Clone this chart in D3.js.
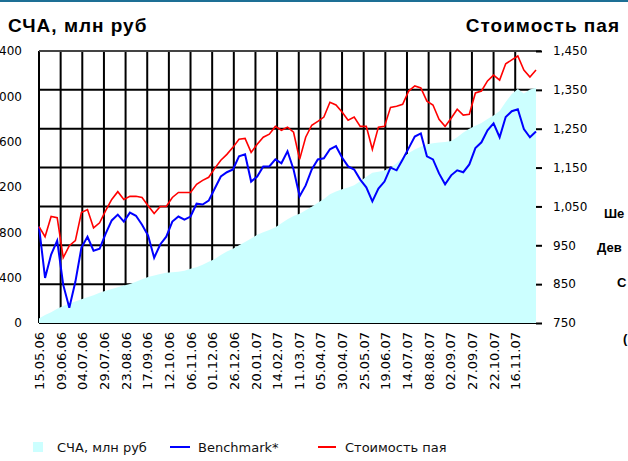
<!DOCTYPE html>
<html>
<head>
<meta charset="utf-8">
<script src="https://cdn.jsdelivr.net/npm/d3@7"></script>
<style>
  body { margin: 0; background: #fff; }
  svg { display: block; }
</style>
</head>
<body>
<div id="chart"></div>
<script>
// weekly observations
const weekDates = [
  "15.05.06","22.05.06","29.05.06","05.06.06","12.06.06","19.06.06","26.06.06","03.07.06","10.07.06","17.07.06",
  "24.07.06","31.07.06","07.08.06","14.08.06","21.08.06","28.08.06","04.09.06","11.09.06","18.09.06","25.09.06",
  "02.10.06","09.10.06","16.10.06","23.10.06","30.10.06","06.11.06","13.11.06","20.11.06","27.11.06","04.12.06",
  "11.12.06","18.12.06","25.12.06","01.01.07","08.01.07","15.01.07","22.01.07","29.01.07","05.02.07","12.02.07",
  "19.02.07","26.02.07","05.03.07","12.03.07","19.03.07","26.03.07","02.04.07","09.04.07","16.04.07","23.04.07",
  "30.04.07","07.05.07","14.05.07","21.05.07","28.05.07","04.06.07","11.06.07","18.06.07","25.06.07","02.07.07",
  "09.07.07","16.07.07","23.07.07","30.07.07","06.08.07","13.08.07","20.08.07","27.08.07","03.09.07","10.09.07",
  "17.09.07","24.09.07","01.10.07","08.10.07","15.10.07","22.10.07","29.10.07","05.11.07","12.11.07","19.11.07",
  "26.11.07","03.12.07","10.12.07"
];

// СЧА, млн руб (left axis)
const navValues = [
  40, 70, 95, 125, 150, 170, 190, 210, 228, 245,
  268, 285, 300, 315, 330, 345, 365, 385, 405, 420,
  432, 443, 447, 452, 462, 478, 492, 515, 540, 565,
  600, 630, 655, 685, 715, 745, 778, 800, 820, 845,
  880, 915, 945, 965, 995, 1025, 1060, 1095, 1135, 1160,
  1180, 1195, 1215, 1250, 1290, 1325, 1335, 1345, 1370, 1410,
  1460, 1500, 1530, 1555, 1577, 1585, 1592, 1598, 1605, 1640,
  1680, 1715, 1740, 1765, 1800, 1830, 1870, 1950, 2020, 2065,
  2025, 2060, 2075
];

// Benchmark* (right axis)
const benchmarkValues = [
  998, 866, 926, 962, 848, 789, 856, 944, 972, 936,
  941, 980, 1014, 1029, 1011, 1034, 1026, 1003, 975, 918,
  952, 972, 1011, 1024, 1016, 1024, 1057, 1055, 1065, 1096,
  1127, 1138, 1145, 1179, 1184, 1114, 1127, 1153, 1153, 1171,
  1161, 1192, 1145, 1076, 1104, 1145, 1171, 1174, 1197, 1205,
  1176, 1153, 1145, 1119, 1099, 1063, 1096, 1114, 1150, 1143,
  1171, 1200, 1230, 1238, 1179, 1171, 1135, 1107, 1130, 1143,
  1138, 1158, 1200, 1215, 1246, 1264, 1228, 1280, 1295, 1300,
  1249, 1228, 1243
];

// Стоимость пая (right axis)
const unitValues = [
  998, 972, 1024, 1021, 918, 949, 962, 1034, 1042, 995,
  1008, 1039, 1068, 1088, 1068, 1076, 1076, 1073, 1052, 1032,
  1050, 1050, 1073, 1086, 1086, 1086, 1107, 1117, 1125, 1148,
  1169, 1184, 1202, 1223, 1225, 1189, 1210, 1228, 1236, 1256,
  1246, 1254, 1241, 1171, 1228, 1259, 1269, 1280, 1318, 1311,
  1293, 1272, 1280, 1256, 1256, 1197, 1254, 1256, 1305, 1308,
  1313, 1347, 1360, 1355, 1321, 1311, 1274, 1256, 1277, 1300,
  1285, 1287, 1342, 1347, 1373, 1388, 1375, 1417, 1427, 1437,
  1401, 1383, 1401
];

const xTickDates = [
  "15.05.06","09.06.06","04.07.06","29.07.06","23.08.06","17.09.06","12.10.06","06.11.06",
  "01.12.06","26.12.06","20.01.07","14.02.07","11.03.07","05.04.07","30.04.07","25.05.07",
  "19.06.07","14.07.07","08.08.07","02.09.07","27.09.07","22.10.07","16.11.07"
];
const navTicks = [0, 400, 800, 1200, 1600, 2000, 2400];
const priceTicks = [750, 850, 950, 1050, 1150, 1250, 1350, 1450];

const width = 628, height = 461;
const plot = { left: 39, right: 536, top: 51, bottom: 323 };

const parse = d3.timeParse("%d.%m.%y");
const dates = weekDates.map(parse);
const tickDates = xTickDates.map(parse);

const svg = d3.select("#chart").append("svg")
  .attr("width", width)
  .attr("height", height)
  .style("font-family", "'DejaVu Sans', sans-serif");

svg.append("rect").attr("width", width).attr("height", height).attr("fill", "#fff");

// thin rule along the top of the page
svg.append("line")
  .attr("x1", 0).attr("x2", width).attr("y1", 1).attr("y2", 1)
  .attr("stroke", "#1d6f95").attr("stroke-width", 2);

const xScale = d3.scaleTime().domain([dates[0], dates[dates.length - 1]]).range([plot.left, plot.right]);
const yPrice = d3.scaleLinear().domain([750, 1450]).range([plot.bottom, plot.top]);
const yNav = d3.scaleLinear().domain([0, 2400]).range([plot.bottom, plot.top]);

// grid (drawn first, the area hides it)
const grid = svg.append("g");
grid.selectAll("line.v")
  .data(tickDates)
  .enter()
  .append("line")
  .attr("x1", d => xScale(d)).attr("x2", d => xScale(d))
  .attr("y1", plot.top).attr("y2", plot.bottom)
  .attr("stroke", "#000").attr("stroke-width", 2);
grid.selectAll("line.h")
  .data(priceTicks)
  .enter()
  .append("line")
  .attr("x1", plot.left).attr("x2", d => d === 1450 ? plot.right + 5 : plot.right)
  .attr("y1", d => yPrice(d)).attr("y2", d => yPrice(d))
  .attr("stroke", d => d === 1450 ? "#444" : "#000").attr("stroke-width", 2);

const area = d3.area()
  .x((d, i) => xScale(dates[i]))
  .y0(yNav(0))
  .y1(d => yNav(d));

svg.append("path")
  .datum(navValues)
  .attr("d", area)
  .attr("fill", "#ccffff");

const line = d3.line()
  .x((d, i) => xScale(dates[i]))
  .y(d => yPrice(d));

svg.append("path")
  .datum(benchmarkValues)
  .attr("d", line)
  .attr("fill", "none")
  .attr("stroke", "#0000ff")
  .attr("stroke-width", 2);

svg.append("path")
  .datum(unitValues)
  .attr("d", line)
  .attr("fill", "none")
  .attr("stroke", "#ff0000")
  .attr("stroke-width", 1.6);

// axes
const rightAxis = d3.axisRight(yPrice).tickValues(priceTicks).tickSize(6).tickPadding(11)
  .tickFormat(d3.format(","));
svg.append("g")
  .attr("transform", `translate(${plot.right},0)`)
  .call(rightAxis)
  .call(g => g.select(".domain").remove())
  .call(g => g.selectAll("line").attr("stroke", "#000").attr("stroke-width", 2))
  .call(g => g.selectAll("text").attr("font-size", 12).attr("fill", "#000").attr("font-family", "'DejaVu Sans', sans-serif"));

const leftAxis = d3.axisLeft(yNav).tickValues(navTicks).tickSize(0).tickPadding(0);
svg.append("g")
  .attr("transform", "translate(22,0)")
  .call(leftAxis)
  .call(g => g.select(".domain").remove())
  .call(g => g.selectAll("text").attr("font-size", 12).attr("fill", "#000").attr("font-family", "'DejaVu Sans', sans-serif"));

const bottomAxis = d3.axisBottom(xScale).tickValues(tickDates).tickSize(0)
  .tickFormat(d3.timeFormat("%d.%m.%y"));
svg.append("g")
  .attr("transform", `translate(0,${plot.bottom})`)
  .call(bottomAxis)
  .call(g => g.select(".domain").remove())
  .call(g => g.selectAll("text")
    .attr("font-size", 13)
    .attr("fill", "#000")
    .attr("font-family", "'DejaVu Sans', sans-serif")
    .attr("transform", "rotate(-90)")
    .attr("x", -9)
    .attr("y", 0)
    .attr("dy", "0.35em")
    .style("text-anchor", "end"));

// titles
svg.append("text").attr("x", 8).attr("y", 32)
  .attr("font-family", "'Liberation Sans', Arial, sans-serif").attr("font-weight", "bold").attr("font-size", 19)
  .attr("letter-spacing", 1)
  .text("СЧА, млн руб");
svg.append("text").attr("x", 620).attr("y", 32).attr("text-anchor", "end")
  .attr("font-family", "'Liberation Sans', Arial, sans-serif").attr("font-weight", "bold").attr("font-size", 19)
  .attr("letter-spacing", 1)
  .text("Стоимость пая");

// neighbouring text cut by the page edge
const sideLabels = [
  { t: "Ше", x: 604, y: 218 },
  { t: "Дев", x: 597, y: 252 },
  { t: "С", x: 617, y: 287 },
  { t: "(", x: 623, y: 343 }
];
svg.selectAll("text.side")
  .data(sideLabels)
  .enter()
  .append("text")
  .attr("x", d => d.x).attr("y", d => d.y)
  .attr("font-family", "'Liberation Sans', Arial, sans-serif").attr("font-weight", "bold").attr("font-size", 13)
  .text(d => d.t);

// legend
const legend = svg.append("g").attr("font-size", 13).attr("fill", "#111");
legend.append("rect").attr("x", 33).attr("y", 442).attr("width", 10).attr("height", 10).attr("fill", "#ccffff");
legend.append("text").attr("x", 57).attr("y", 452).text("СЧА, млн руб");
legend.append("line").attr("x1", 170).attr("x2", 190).attr("y1", 447).attr("y2", 447)
  .attr("stroke", "#0000ff").attr("stroke-width", 2);
legend.append("text").attr("x", 198).attr("y", 452).text("Benchmark*");
legend.append("line").attr("x1", 318).attr("x2", 336).attr("y1", 447).attr("y2", 447)
  .attr("stroke", "#ff0000").attr("stroke-width", 2);
legend.append("text").attr("x", 345).attr("y", 452).text("Стоимость пая");
</script>
</body>
</html>
